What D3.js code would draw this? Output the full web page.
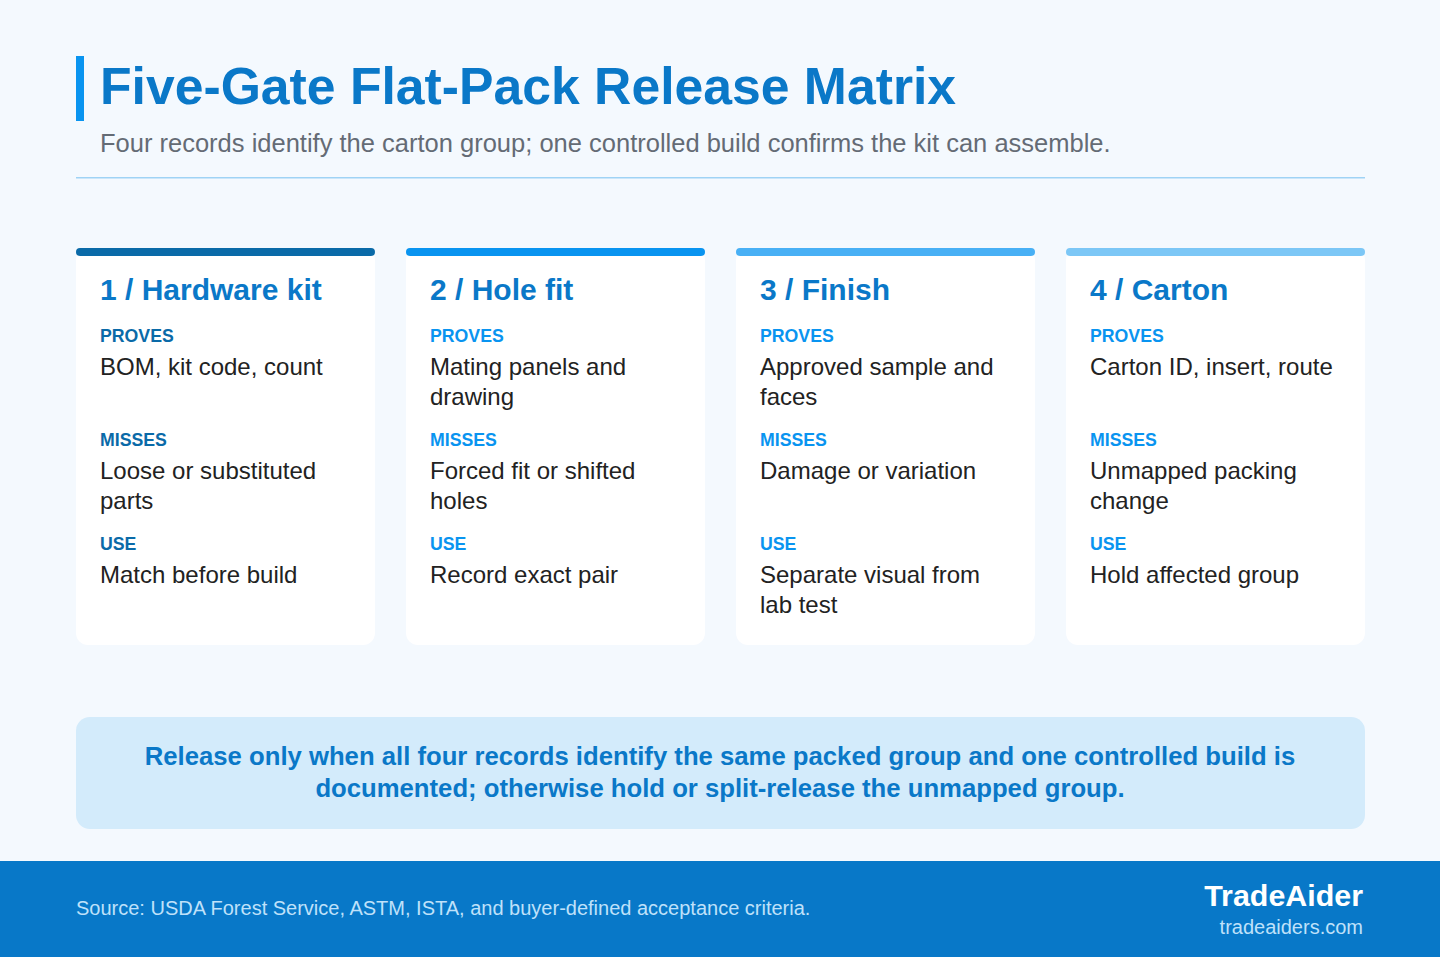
<!DOCTYPE html>
<html><head><meta charset="utf-8">
<script src="https://cdn.jsdelivr.net/npm/d3@7"></script>
<style>body{margin:0;background:#f4f9fe}text{font-family:"Liberation Sans",Arial,sans-serif}</style>
</head><body><svg width="1440" height="957"></svg>
<script>
var gates = ['1 / Hardware kit', '2 / Hole fit', '3 / Finish', '4 / Carton'];
var barColors = ['#0a6aa8', '#0994f0', '#48b0f5', '#7cc7f6'];
var labelColors = ['#0a6aa8', '#0994f0', '#0994f0', '#0994f0'];
var sections = ['PROVES', 'MISSES', 'USE'];
var proves = [['BOM, kit code, count'], ['Mating panels and', 'drawing'], ['Approved sample and', 'faces'], ['Carton ID, insert, route']];
var misses = [['Loose or substituted', 'parts'], ['Forced fit or shifted', 'holes'], ['Damage or variation'], ['Unmapped packing', 'change']];
var uses = [['Match before build'], ['Record exact pair'], ['Separate visual from', 'lab test'], ['Hold affected group']];

function main() {
	var svg = d3.select('svg');
	svg.append('rect').attr('width', 1440).attr('height', 957).attr('fill', '#f4f9fe');
	svg.append('rect').attr('x', 76).attr('y', 56).attr('width', 8).attr('height', 65).attr('fill', '#0994f0');
	svg.append('text').attr('x', 100).attr('y', 104).attr('font-size', 51.7).attr('font-weight', 700)
		.attr('fill', '#0a78c8').text('Five-Gate Flat-Pack Release Matrix');
	svg.append('text').attr('x', 100).attr('y', 152).attr('font-size', 25.5).attr('fill', '#646b75')
		.text('Four records identify the carton group; one controlled build confirms the kit can assemble.');
	svg.append('rect').attr('x', 76).attr('y', 177).attr('width', 1289).attr('height', 1.5).attr('fill', '#9fd3f5');

	var x = d3.scaleBand().domain(gates).range([76, 1365]).paddingInner(0.094);
	var card = svg.selectAll('.card').data(gates).enter().append('g')
		.attr('transform', function(d){ return 'translate(' + x(d) + ',248)'; });
	card.append('rect').attr('width', x.bandwidth()).attr('height', 397).attr('rx', 12).attr('fill', '#fff');
	card.append('rect').attr('width', x.bandwidth()).attr('height', 8).attr('rx', 4)
		.attr('fill', function(d, i){ return barColors[i]; });
	card.append('text').attr('x', 24).attr('y', 52).attr('font-size', 30).attr('font-weight', 700)
		.attr('fill', '#0a78c8').text(function(d){ return d; });
	var texts = [proves, misses, uses];
	sections.forEach(function(s, k) {
		var y0 = 94 + k * 104;
		card.append('text').attr('x', 24).attr('y', y0).attr('font-size', 17.7).attr('font-weight', 700)
			.attr('fill', function(d, i){ return labelColors[i]; }).text(s);
		card.each(function(d, i) {
			d3.select(this).selectAll(null).data(texts[k][i]).enter().append('text')
				.attr('x', 24).attr('y', function(t, j){ return y0 + 33 + j * 30; })
				.attr('font-size', 24).attr('fill', '#222').text(function(t){ return t; });
		});
	});

	svg.append('rect').attr('x', 76).attr('y', 717).attr('width', 1289).attr('height', 112).attr('rx', 14).attr('fill', '#d3ebfb');
	svg.selectAll('.ban').data(['Release only when all four records identify the same packed group and one controlled build is',
		'documented; otherwise hold or split-release the unmapped group.']).enter().append('text')
		.attr('x', 720).attr('y', function(d, i){ return 765 + i * 32; }).attr('text-anchor', 'middle')
		.attr('font-size', 25.7).attr('font-weight', 700).attr('fill', '#0a78c8').text(function(d){ return d; });

	svg.append('rect').attr('y', 861).attr('width', 1440).attr('height', 96).attr('fill', '#0878c8');
	svg.append('text').attr('x', 76).attr('y', 915).attr('font-size', 20).attr('fill', '#bfe1fa')
		.text('Source: USDA Forest Service, ASTM, ISTA, and buyer-defined acceptance criteria.');
	svg.append('text').attr('x', 1363).attr('y', 906).attr('text-anchor', 'end').attr('font-size', 30.4).attr('font-weight', 700)
		.attr('fill', '#fff').text('TradeAider');
	svg.append('text').attr('x', 1363).attr('y', 934).attr('text-anchor', 'end').attr('font-size', 20)
		.attr('fill', '#bfe1fa').text('tradeaiders.com');
}
main();
</script></body></html>
